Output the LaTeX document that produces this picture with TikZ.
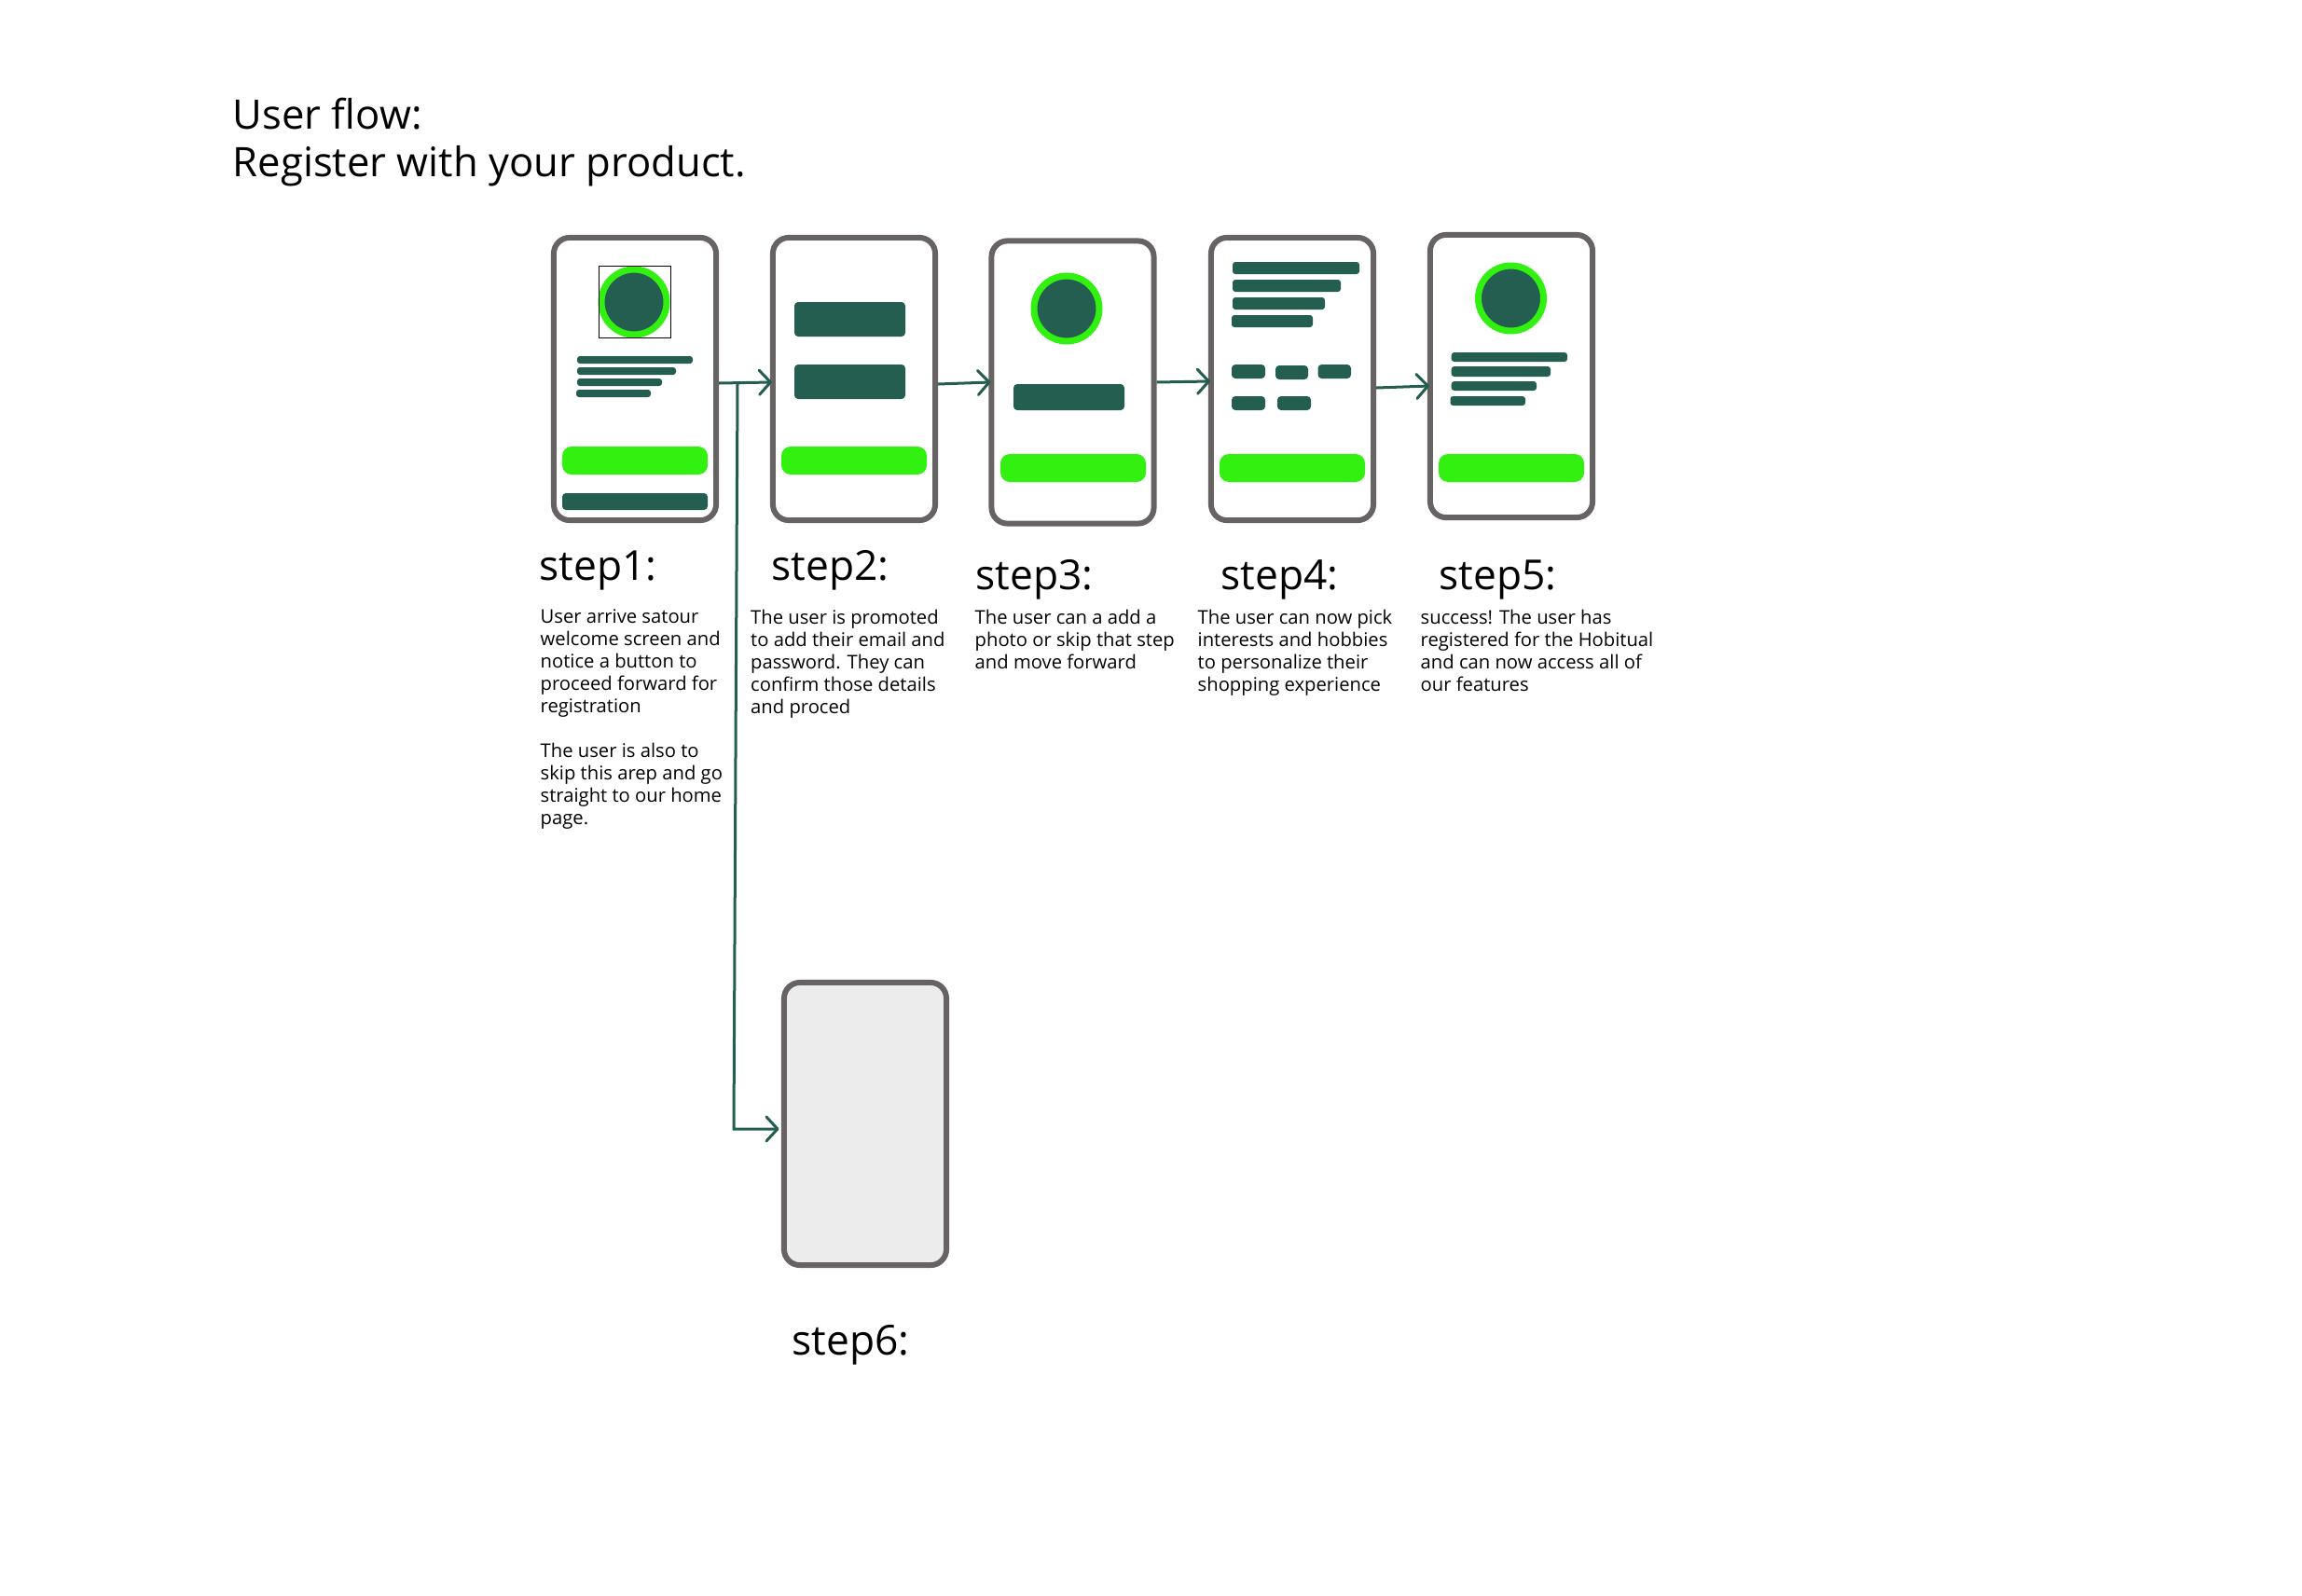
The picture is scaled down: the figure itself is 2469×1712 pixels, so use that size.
\documentclass[tikz,border=0pt]{standalone}
\usepackage{fontspec}
\setmainfont{Open Sans}
\usetikzlibrary{arrows.meta}
\definecolor{framegray}{HTML}{686363}
\definecolor{darkgreen}{HTML}{235E50}
\definecolor{brightgreen}{HTML}{32F010}
\definecolor{blankgray}{HTML}{ECECEC}
\tikzset{
  phone/.style={draw=framegray, line width=0.06cm, fill=white, rounded corners=0.17cm, inner sep=0pt, minimum width=1.74cm, minimum height=3.03cm},
  bar/.style={fill=darkgreen, rounded corners=0.03cm},
  chip/.style={fill=darkgreen, rounded corners=0.04cm},
  cta/.style={fill=brightgreen, rounded corners=0.1cm},
  avatar/.style={fill=darkgreen, draw=brightgreen, line width=0.07cm},
  flow/.style={draw=darkgreen, line width=0.03cm, -{Straight Barb[round,length=0.12cm,width=0.26cm]}},
  heading/.style={inner sep=0pt, anchor=north west, align=left, font=\fontsize{12.4}{14.6}\selectfont},
  steplabel/.style={inner sep=0pt, anchor=base west, font=\fontsize{12.6}{14.8}\selectfont},
  steptext/.style={inner sep=0pt, anchor=north west, align=left, font=\fontsize{5.75}{6.83}\selectfont}
}
\begin{document}
\begin{tikzpicture}[x=0.01cm,y=-0.01cm]
\useasboundingbox (0,0) rectangle (2469,1712);
% Title
\node[heading] (title) at (249,104) {User flow:\\Register with your product.};
% Screens
\node[phone] (p1) at (681,406.5) {};
\node[phone] (p2) at (916,406.5) {};
\node[phone] (p3) at (1150.5,410) {};
\node[phone] (p4) at (1386,406.5) {};
\node[phone] (p5) at (1621,403.5) {};
\node[phone, fill=blankgray] (p6) at (928,1205.5) {};
% Screen 1
\draw[avatar] (680,324) circle (35);
\draw[line width=0.01cm] (642,285) rectangle (719,362);
\fill[bar] (619,382) rectangle (743,390);
\fill[bar] (619,394) rectangle (725,402);
\fill[bar] (619,406) rectangle (710,414);
\fill[bar] (618,418) rectangle (698,426);
\fill[cta] (603,479) rectangle (759,509);
\fill[chip] (603,529) rectangle (759,547);
% Screen 2
\fill[chip] (852,324) rectangle (971,361);
\fill[chip] (852,391) rectangle (971,428);
\fill[cta] (838,479) rectangle (994,509);
% Screen 3
\draw[avatar] (1144,331) circle (35);
\fill[chip] (1087,412) rectangle (1206,440);
\fill[cta] (1073,487) rectangle (1229,517);
% Screen 4
\fill[bar] (1322,281) rectangle (1458,294);
\fill[bar] (1322,300) rectangle (1438,313);
\fill[bar] (1322,319) rectangle (1421,332);
\fill[bar] (1321,338) rectangle (1408,351);
\fill[chip] (1321,391) rectangle (1357,406);
\fill[chip] (1368,392) rectangle (1403,407);
\fill[chip] (1413.5,391) rectangle (1449,406);
\fill[chip] (1321,425) rectangle (1357,440);
\fill[chip] (1370,425) rectangle (1406,440);
\fill[cta] (1308,487) rectangle (1464,517);
% Screen 5
\draw[avatar] (1620.5,320) circle (35);
\fill[bar] (1556.7,378) rectangle (1681,388);
\fill[bar] (1556.7,393) rectangle (1663,404);
\fill[bar] (1556.7,409) rectangle (1648,419);
\fill[bar] (1555.5,425) rectangle (1636,435);
\fill[cta] (1543,487) rectangle (1699,517);
% Flow
\coordinate (branch) at (791,411);
\coordinate (elbow) at (787,1211);
\draw[flow] ([yshift=-0.045cm]p1.east) -- ([xshift=0.02cm,yshift=-0.035cm]p2.west);
\draw[flow] ([yshift=-0.055cm]p2.east) -- ([xshift=0.02cm]p3.west);
\draw[flow] (p3.east) -- ([xshift=0.02cm,yshift=-0.025cm]p4.west);
\draw[flow] ([yshift=-0.095cm]p4.east) -- ([xshift=0.02cm,yshift=-0.105cm]p5.west);
\draw[flow] (branch) -- (elbow) -- ([xshift=-0.025cm]p6.west |- elbow);
% Step labels
\node[steplabel] (s1) at (578,622) {step1:};
\node[steplabel] (s2) at (827,622) {step2:};
\node[steplabel] (s3) at (1046,632) {step3:};
\node[steplabel] (s4) at (1309,632) {step4:};
\node[steplabel] (s5) at (1543,632) {step5:};
\node[steplabel] (s6) at (849,1453) {step6:};
% Step texts
\node[steptext] (t1) at (579,653) {User arrive satour\\welcome screen and\\notice a button to\\proceed forward for\\registration\\[6.83pt]The user is also to\\skip this arep and go\\straight to our home\\page.};
\node[steptext] (t2) at (804.5,653) {The user is promoted\\to add their email and\\password. They can\\confirm those details\\and proced};
\node[steptext] (t3) at (1045,653) {The user can a add a\\photo or skip that step\\and move forward};
\node[steptext] (t4) at (1284,653) {The user can now pick\\interests and hobbies\\to personalize their\\shopping experience};
\node[steptext] (t5) at (1523,653) {success! The user has\\registered for the Hobitual\\and can now access all of\\our features};
\end{tikzpicture}
\end{document}
